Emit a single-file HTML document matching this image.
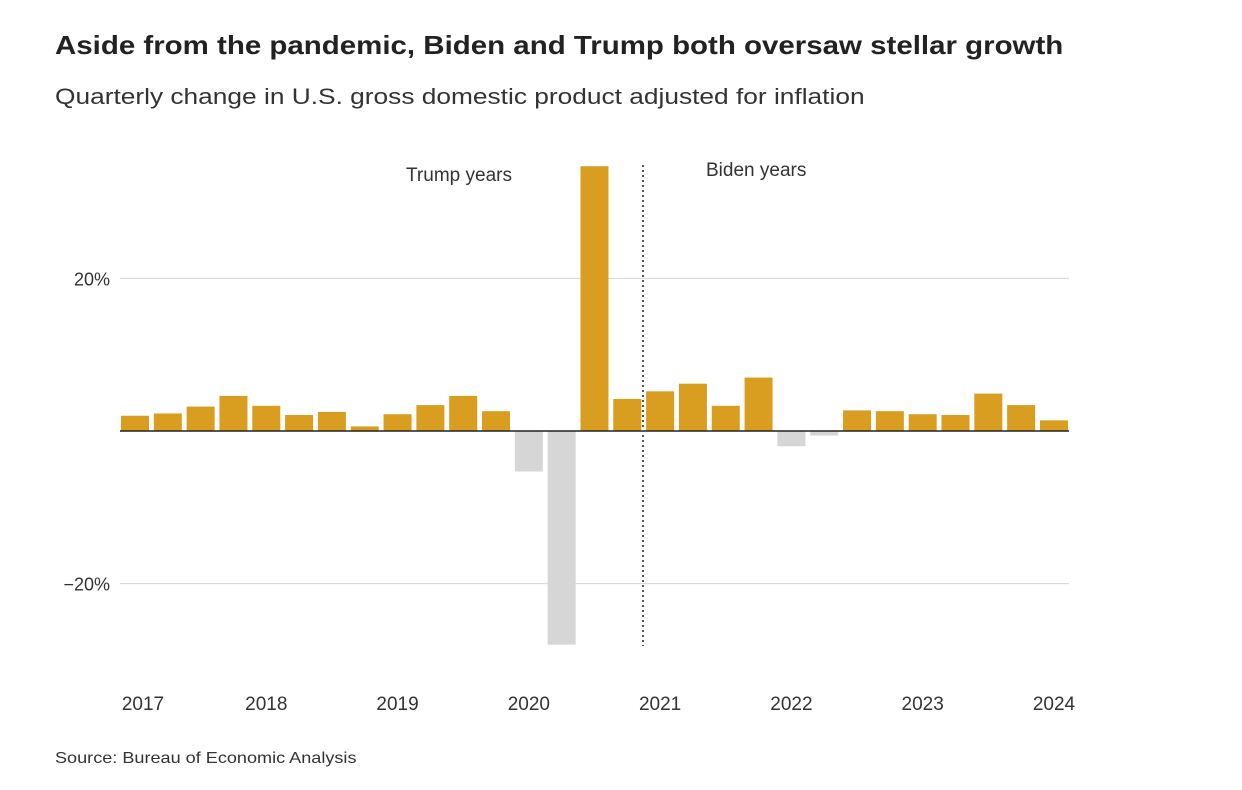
<!DOCTYPE html>
<html><head><meta charset="utf-8"><style>
body{margin:0;background:#fff;font-family:"Liberation Sans",sans-serif;color:#222;}
#wrap{position:relative;width:1242px;height:790px;overflow:hidden;}
h1{position:absolute;left:55px;top:30px;margin:0;font-size:26px;font-weight:bold;color:#222;white-space:nowrap;transform-origin:left top;transform:scaleX(1.133);}
.sub{position:absolute;left:55px;top:84px;font-size:22px;color:#333;white-space:nowrap;transform-origin:left top;transform:scaleX(1.195);}
.src{position:absolute;left:55px;top:750px;font-size:16px;color:#333;white-space:nowrap;transform-origin:left top;transform:scaleX(1.13);}
</style></head><body>
<div id="wrap">
<h1>Aside from the pandemic, Biden and Trump both oversaw stellar growth</h1>
<div class="sub">Quarterly change in U.S. gross domestic product adjusted for inflation</div>
<svg id="chart" width="1242" height="790" style="position:absolute;left:0;top:0"></svg>
<div class="src">Source: Bureau of Economic Analysis</div>
</div>
<script>
const quarters=["2017Q1","2017Q2","2017Q3","2017Q4","2018Q1","2018Q2","2018Q3","2018Q4","2019Q1","2019Q2","2019Q3","2019Q4","2020Q1","2020Q2","2020Q3","2020Q4","2021Q1","2021Q2","2021Q3","2021Q4","2022Q1","2022Q2","2022Q3","2022Q4","2023Q1","2023Q2","2023Q3","2023Q4","2024Q1"];
const growth=[2.0,2.3,3.2,4.6,3.3,2.1,2.5,0.6,2.2,3.4,4.6,2.6,-5.3,-28.0,34.7,4.2,5.2,6.2,3.3,7.0,-2.0,-0.6,2.7,2.6,2.2,2.1,4.9,3.4,1.4];
const yTicks=[20,-20];
const yTickLabels=["20%","\u221220%"];
const xLabels=["2017","2018","2019","2020","2021","2022","2023","2024"];
const NS="http://www.w3.org/2000/svg";
const svg=document.getElementById('chart');
const y0=431, ppu=7.63, left=121, step=32.82, bw=28;
const y=v=>y0-v*ppu;
const x=i=>left+i*step;
function mk(t,a){const e=document.createElementNS(NS,t);for(const k in a)e.setAttribute(k,a[k]);svg.appendChild(e);return e;}
yTicks.forEach((t,i)=>{
 const g=mk('line',{x1:120,x2:1069,y1:y(t),y2:y(t),stroke:'#d6d6d6','stroke-width':1});
 
 
 const l=mk('text',{x:110,y:y(t)+7,'text-anchor':'end','font-size':18,fill:'#333','font-family':'Liberation Sans, sans-serif'});
 l.textContent=yTickLabels[i];
 
 
});
growth.forEach((v,i)=>{
 const r=mk('rect',{x:x(i),y:Math.min(y(v),y0),width:bw,height:Math.abs(y(v)-y0),fill:v>=0?'#d99e1f':'#d6d6d6'});
 
 
});
const z=mk('line',{x1:120,x2:1069,y1:y0,y2:y0,stroke:'#222','stroke-width':1.5});


const d=mk('line',{x1:643,x2:643,y1:165,y2:646,stroke:'#555','stroke-width':2,'stroke-dasharray':'2,3'});


const t1=mk('text',{x:459,y:181,'text-anchor':'middle','font-size':19,fill:'#333','font-family':'Liberation Sans, sans-serif'});
t1.textContent='Trump years';


const t2=mk('text',{x:706,y:176,'font-size':19,fill:'#333','font-family':'Liberation Sans, sans-serif'});
t2.textContent='Biden years';


xLabels.forEach((s,k)=>{
 let cx=x(k*4)+bw/2; if(k===0) cx=143;
 const l=mk('text',{x:cx,y:710,'text-anchor':'middle','font-size':19,fill:'#333','font-family':'Liberation Sans, sans-serif'});
 l.textContent=s;
 
 
});
</script>
</body></html>
